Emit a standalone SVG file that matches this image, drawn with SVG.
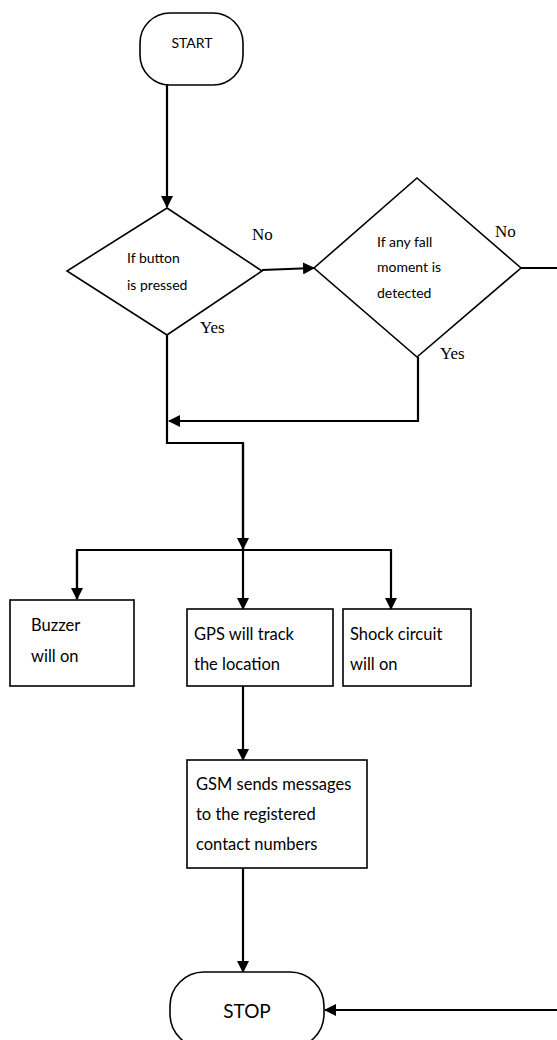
<svg xmlns="http://www.w3.org/2000/svg" width="557" height="1040" viewBox="0 0 557 1040">
<style>
.shape{fill:#fff;stroke:#000;stroke-width:1.6}
.line{fill:none;stroke:#000;stroke-width:2.2}
.t{font-family:Lato,"Liberation Sans",sans-serif;fill:#000}
.s{font-family:"Liberation Serif",serif;font-size:17px;fill:#000}
</style>
<defs>
<marker id="ah" markerWidth="12" markerHeight="12" refX="11" refY="6" orient="auto" markerUnits="userSpaceOnUse">
<path d="M0,0 L12,6 L0,12 z" fill="#000"/>
</marker>
</defs>
<g id="connectors">
<path class="line" d="M167,85 V207" marker-end="url(#ah)"/>
<path class="line" d="M262,270 L314,268" marker-end="url(#ah)"/>
<path class="line" d="M521,268 H557"/>
<path class="line" d="M418,357 V421 H169" marker-end="url(#ah)"/>
<path class="line" d="M167,335 V443 H243 V549"/>
<path class="line" d="M243,443 V549" marker-end="url(#ah)"/>
<path class="line" d="M77,599 V550 H391 V609" marker-end="url(#ah)"/>
<path class="line" d="M77,550 V599" marker-end="url(#ah)"/>
<path class="line" d="M243,550 V609" marker-end="url(#ah)"/>
<path class="line" d="M243,686 V760" marker-end="url(#ah)"/>
<path class="line" d="M243,868 V972" marker-end="url(#ah)"/>
<path class="line" d="M557,1010 H325" marker-end="url(#ah)"/>
</g>
<g id="start">
<rect class="shape" x="140" y="13" width="103" height="72" rx="30"/>
<text class="t" x="192" y="48" font-size="14" text-anchor="middle">START</text>
</g>
<g id="button">
<polygon class="shape" points="167,208 262,271 167,335 67,271"/>
<text class="t" x="127" y="263" font-size="14">If button</text>
<text class="t" x="127" y="290" font-size="14">is pressed</text>
<text class="s" x="252" y="240">No</text>
<text class="s" x="200" y="333">Yes</text>
</g>
<g id="fall">
<polygon class="shape" points="417,178 521,268 417,357 314,268"/>
<text class="t" x="377" y="247" font-size="14">If any fall</text>
<text class="t" x="377" y="272" font-size="14">moment is</text>
<text class="t" x="377" y="298" font-size="14">detected</text>
<text class="s" x="495" y="237">No</text>
<text class="s" x="440" y="359">Yes</text>
</g>
<g id="buzzer">
<rect class="shape" x="10" y="600" width="124" height="86"/>
<text class="t" x="31" y="631" font-size="16.5">Buzzer</text>
<text class="t" x="31" y="662" font-size="16.5">will on</text>
</g>
<g id="gps">
<rect class="shape" x="187" y="609" width="146" height="77"/>
<text class="t" x="194" y="640" font-size="16.5">GPS will track</text>
<text class="t" x="194" y="670" font-size="16.5">the location</text>
</g>
<g id="shock">
<rect class="shape" x="343" y="609" width="128" height="77"/>
<text class="t" x="350" y="640" font-size="16.5">Shock circuit</text>
<text class="t" x="350" y="670" font-size="16.5">will on</text>
</g>
<g id="gsm">
<rect class="shape" x="187" y="760" width="180" height="108"/>
<text class="t" x="196" y="790" font-size="16.5">GSM sends messages</text>
<text class="t" x="196" y="820" font-size="16.5">to the registered</text>
<text class="t" x="196" y="850" font-size="16.5">contact numbers</text>
</g>
<g id="stop">
<rect class="shape" x="170" y="972" width="154" height="76" rx="34"/>
<text class="t" x="247" y="1018" font-size="19" text-anchor="middle">STOP</text>
</g>
</svg>
